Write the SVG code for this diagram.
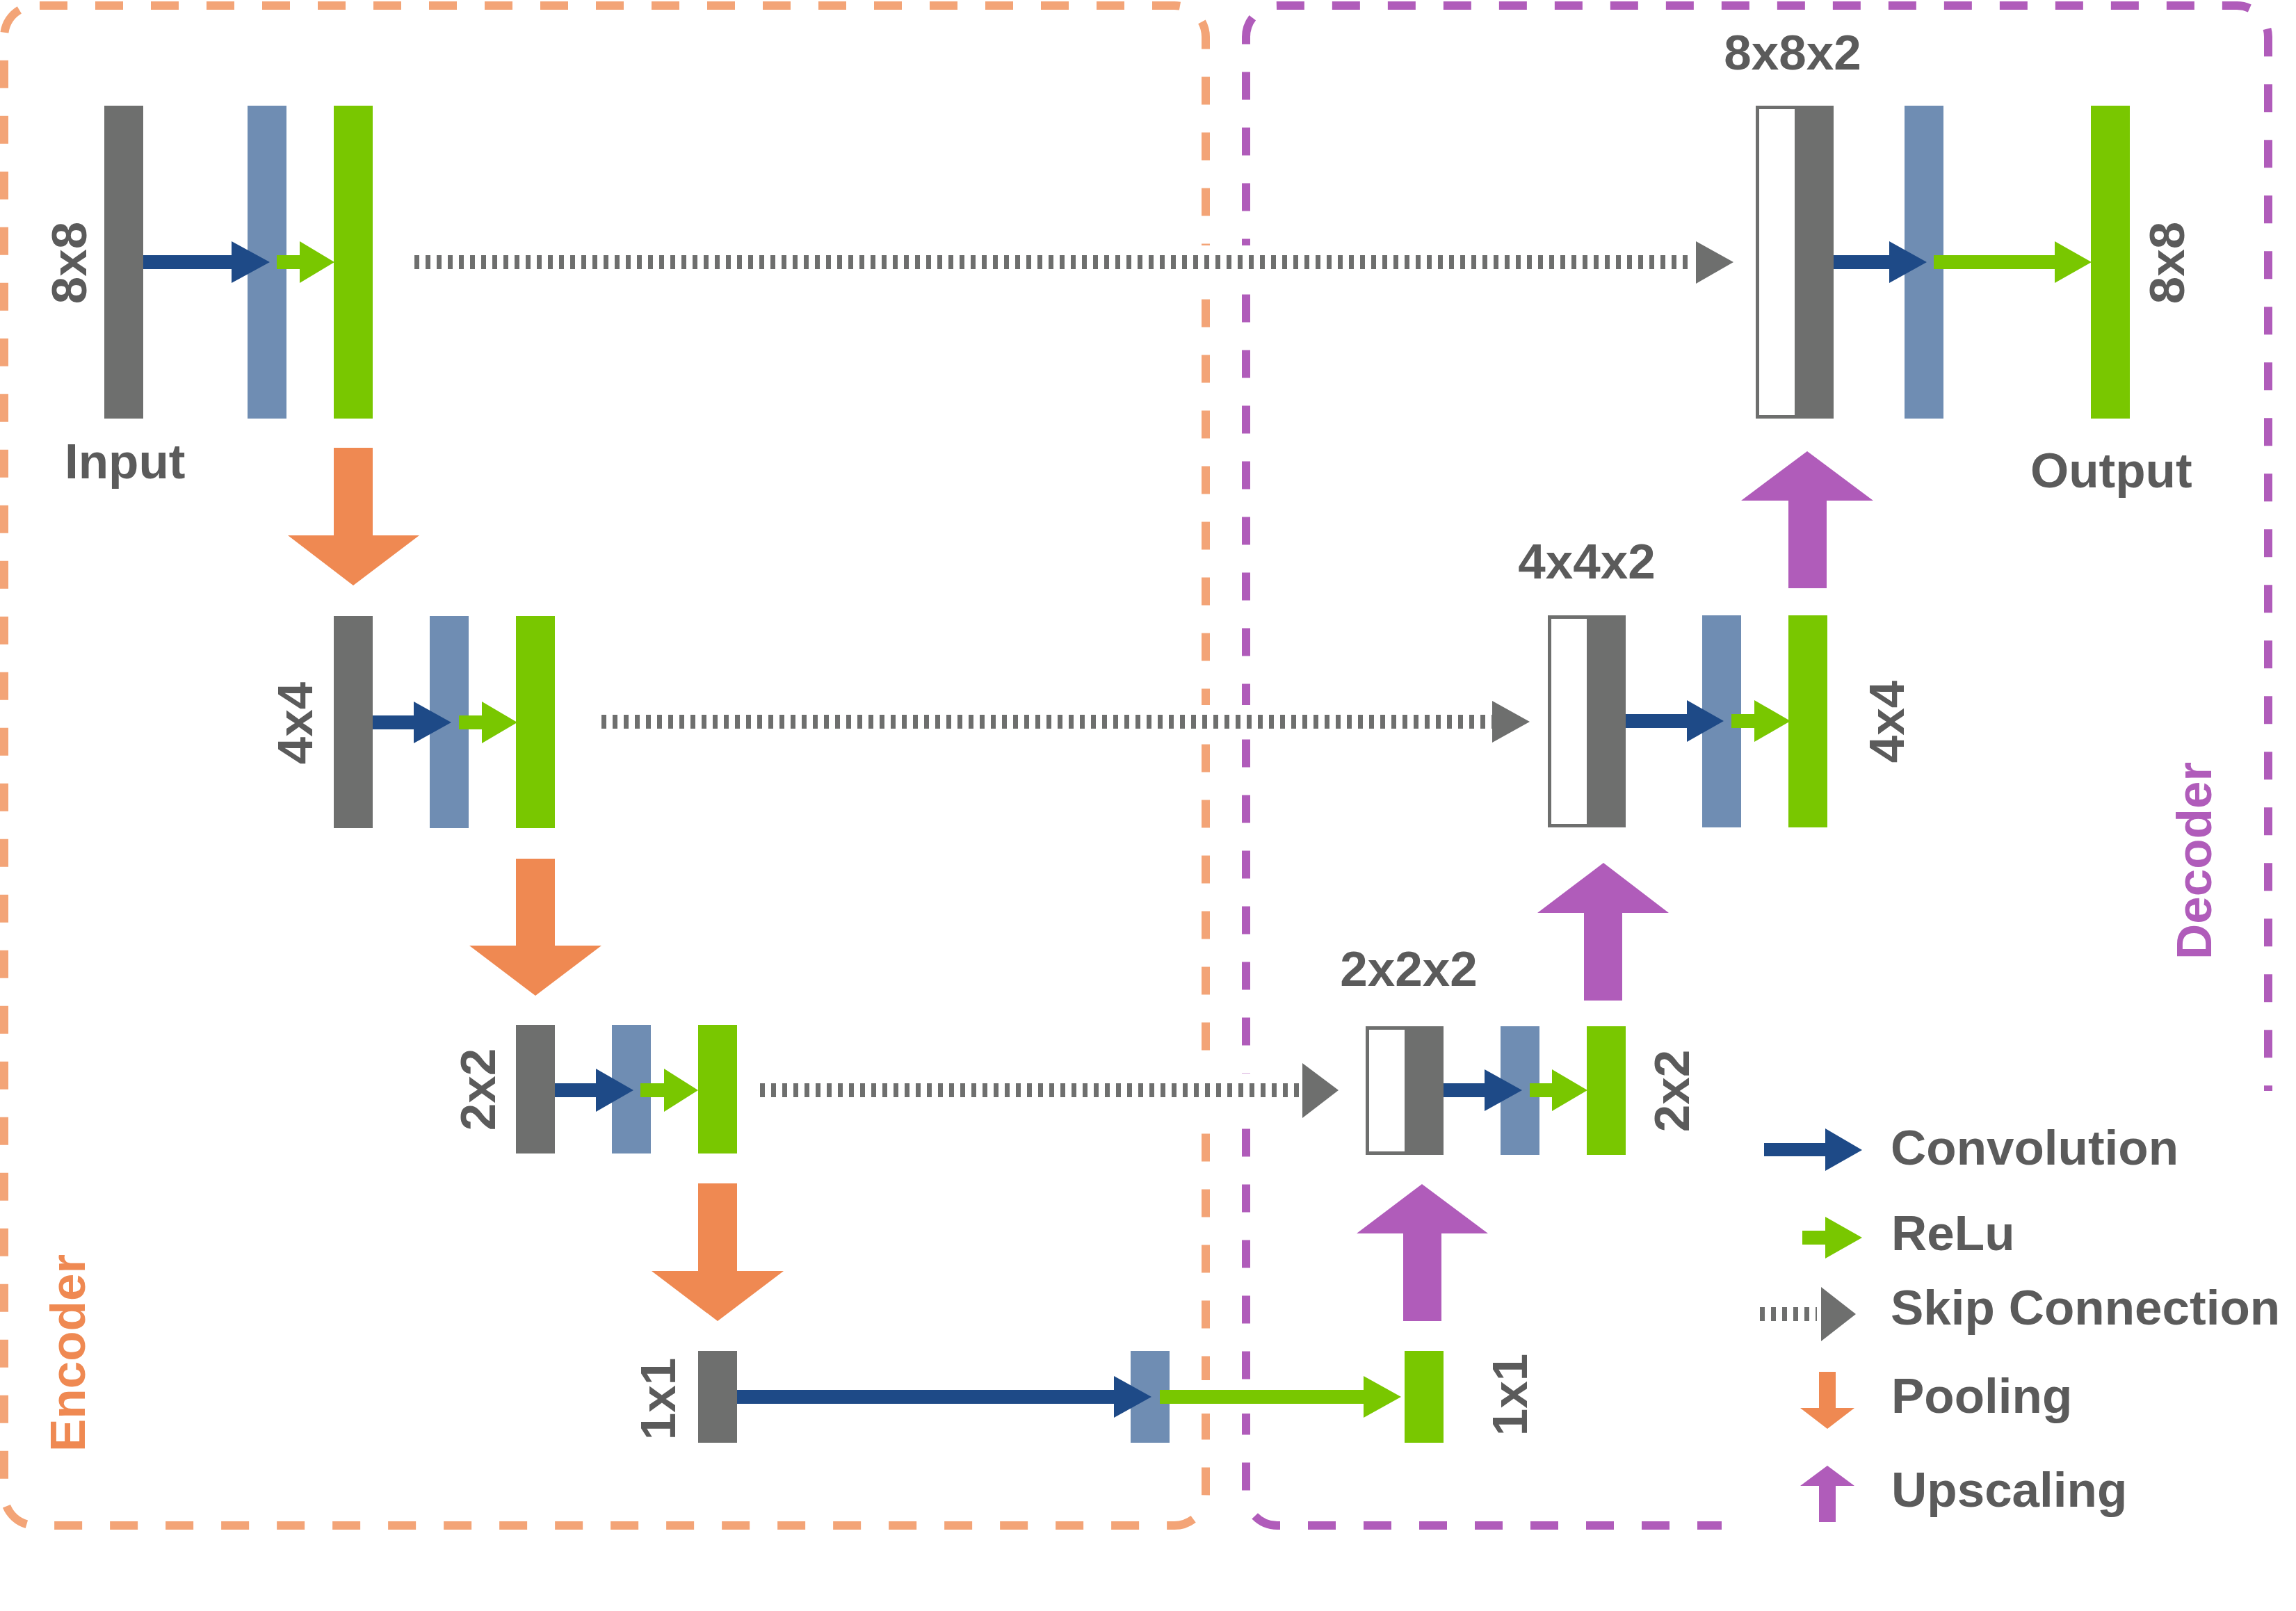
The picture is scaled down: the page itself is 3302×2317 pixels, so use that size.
<svg xmlns="http://www.w3.org/2000/svg" width="3302" height="2317" viewBox="0 0 3302 2317">
<style>
.bg{fill:#ffffff}
.gray{fill:#6E6F6E}
.blue{fill:#6F8DB3}
.green{fill:#79C700}
.cat{fill:#ffffff;stroke:#6E6F6E;stroke-width:5}
.conv{fill:#1E4A87}
.relu{fill:#79C700}
.pool{fill:#EF8952}
.up{fill:#B05CBA}
.skiphead{fill:#6E6F6E}
.skip{stroke:#6E6F6E;stroke-width:20;stroke-dasharray:7 9;fill:none}
.halo{stroke:#ffffff;stroke-width:48;fill:none}
.enc{fill:none;stroke:#F3A477;stroke-width:12;stroke-dasharray:40 40}
.dec{fill:none;stroke:#B05CBA;stroke-width:12;stroke-dasharray:40 40}
text{font-family:"Liberation Sans",Arial,Helvetica,sans-serif;font-weight:bold;font-size:71px;fill:#5B5B5B}
.mid{text-anchor:middle}
.encT{fill:#EF8952}
.decT{fill:#B05CBA}
</style>
<rect class="bg" x="0" y="0" width="3302" height="2317"/>

<g id="encoder-box">
<rect class="enc" x="6" y="8" width="1728" height="2186" rx="45" ry="45" stroke-dashoffset="74"/>
<text class="mid encT" x="96" y="1972" transform="rotate(-90 96 1946)">Encoder</text>
</g>
<g id="decoder-box">
<path class="dec" stroke-dashoffset="5" d="M2476,2194 H1837 A45,45 0 0 1 1792,2149 V53 A45,45 0 0 1 1837,8 H3217 A45,45 0 0 1 3262,53 V1569"/>
<text class="mid decT" x="3154" y="1264" transform="rotate(-90 3154 1238)">Decoder</text>
</g>

<g id="crossing-gaps">
<line class="halo" x1="596" y1="377" x2="2436" y2="377"/>
<line class="halo" x1="865" y1="1038" x2="2146" y2="1038"/>
<line class="halo" x1="1093" y1="1568" x2="1871" y2="1568"/>
<line class="halo" x1="1700" y1="2009" x2="1961" y2="2009" stroke-width="60"/>
</g>

<g id="enc-row1">
<rect class="gray" x="150" y="152" width="56" height="450"/>
<rect class="blue" x="356" y="152" width="56" height="450"/>
<rect class="green" x="480" y="152" width="56" height="450"/>
<text class="mid" x="98" y="404" transform="rotate(-90 98 378)">8x8</text>
<text x="93" y="688">Input</text>
</g>
<g id="enc-row2">
<rect class="gray" x="480" y="886" width="56" height="305"/>
<rect class="blue" x="618" y="886" width="56" height="305"/>
<rect class="green" x="742" y="886" width="56" height="305"/>
<text class="mid" x="423" y="1066" transform="rotate(-90 423 1040)">4x4</text>
</g>
<g id="enc-row3">
<rect class="gray" x="742" y="1474" width="56" height="185"/>
<rect class="blue" x="880" y="1474" width="56" height="185"/>
<rect class="green" x="1004" y="1474" width="56" height="185"/>
<text class="mid" x="686" y="1593" transform="rotate(-90 686 1567)">2x2</text>
</g>
<g id="bottleneck">
<rect class="gray" x="1004" y="1943" width="56" height="132"/>
<rect class="blue" x="1626" y="1943" width="56" height="132"/>
<rect class="green" x="2020" y="1943" width="56" height="132"/>
<text class="mid" x="945" y="2038" transform="rotate(-90 945 2012)">1x1</text>
<text class="mid" x="2170" y="2032" transform="rotate(-90 2170 2006)">1x1</text>
</g>
<g id="dec-row3">
<rect class="cat" x="1966.5" y="1478.5" width="56" height="180"/>
<rect class="gray" x="2020" y="1476" width="56" height="185"/>
<rect class="blue" x="2158" y="1476" width="56" height="185"/>
<rect class="green" x="2282" y="1476" width="56" height="185"/>
<text class="mid" x="2026" y="1418">2x2x2</text>
<text class="mid" x="2403" y="1595" transform="rotate(-90 2403 1569)">2x2</text>
</g>
<g id="dec-row2">
<rect class="cat" x="2228.5" y="887.5" width="56" height="300"/>
<rect class="gray" x="2282" y="885" width="56" height="305"/>
<rect class="blue" x="2448" y="885" width="56" height="305"/>
<rect class="green" x="2572" y="885" width="56" height="305"/>
<text class="mid" x="2282" y="832">4x4x2</text>
<text class="mid" x="2712" y="1064" transform="rotate(-90 2712 1038)">4x4</text>
</g>
<g id="dec-row1">
<rect class="cat" x="2527.5" y="154.5" width="56" height="445"/>
<rect class="gray" x="2581" y="152" width="56" height="450"/>
<rect class="blue" x="2739" y="152" width="56" height="450"/>
<rect class="green" x="3007" y="152" width="56" height="450"/>
<text class="mid" x="2578" y="100">8x8x2</text>
<text class="mid" x="3115" y="404" transform="rotate(-90 3115 378)">8x8</text>
<text x="2920" y="701">Output</text>
</g>

<g id="connectors">
<!-- skip connections -->
<line class="skip" x1="596" y1="377" x2="2436" y2="377"/>
<polygon class="skiphead" points="2439,347 2493,377 2439,408"/>
<line class="skip" x1="865" y1="1038" x2="2146" y2="1038"/>
<polygon class="skiphead" points="2146,1008 2200,1038 2146,1068"/>
<line class="skip" x1="1093" y1="1568" x2="1871" y2="1568"/>
<polygon class="skiphead" points="1873,1529 1925,1568 1873,1608"/>
<!-- encoder row arrows -->
<polygon class="conv" points="206,367 333,367 333,347 388,377 333,407 333,387 206,387"/>
<polygon class="relu" points="398,367 431,367 431,347 481,377 431,407 431,387 398,387"/>
<polygon class="conv" points="536,1029 595,1029 595,1009 649,1039 595,1069 595,1049 536,1049"/>
<polygon class="relu" points="660,1029 693,1029 693,1009 744,1039 693,1069 693,1049 660,1049"/>
<polygon class="conv" points="798,1558 857,1558 857,1537 911,1568 857,1599 857,1578 798,1578"/>
<polygon class="relu" points="921,1558 955,1558 955,1537 1004,1568 955,1599 955,1578 921,1578"/>
<polygon class="conv" points="1060,1999 1602,1999 1602,1979 1656,2009 1602,2039 1602,2019 1060,2019"/>
<polygon class="relu" points="1668,1999 1961,1999 1961,1979 2015,2009 1961,2039 1961,2019 1668,2019"/>
<!-- decoder row arrows -->
<polygon class="conv" points="2076,1558 2135,1558 2135,1538 2189,1568 2135,1598 2135,1578 2076,1578"/>
<polygon class="relu" points="2200,1558 2232,1558 2232,1538 2283,1568 2232,1598 2232,1578 2200,1578"/>
<polygon class="conv" points="2338,1027 2426,1027 2426,1007 2479,1037 2426,1067 2426,1047 2338,1047"/>
<polygon class="relu" points="2490,1027 2523,1027 2523,1007 2575,1037 2523,1067 2523,1047 2490,1047"/>
<polygon class="conv" points="2637,367 2717,367 2717,347 2771,377 2717,407 2717,387 2637,387"/>
<polygon class="relu" points="2781,367 2955,367 2955,347 3008,377 2955,407 2955,387 2781,387"/>
<!-- pooling -->
<polygon class="pool" points="480,644 536,644 536,770 603,770 508,842 414,770 480,770"/>
<polygon class="pool" points="742,1235 798,1235 798,1360 865,1360 770,1432 675,1360 742,1360"/>
<polygon class="pool" points="1004,1702 1060,1702 1060,1828 1127,1828 1032,1900 937,1828 1004,1828"/>
<!-- upscaling -->
<polygon class="up" points="2018,1900 2073,1900 2073,1774 2140,1774 2045,1703 1951,1774 2018,1774"/>
<polygon class="up" points="2278,1439 2333,1439 2333,1313 2400,1313 2306,1241 2211,1313 2278,1313"/>
<polygon class="up" points="2572,846 2627,846 2627,720 2694,720 2599,649 2504,720 2572,720"/>
</g>

<g id="legend">
<polygon class="conv" points="2537,1644 2625,1644 2625,1623 2678,1654 2625,1684 2625,1663 2537,1663"/>
<text x="2719" y="1675">Convolution</text>
<polygon class="relu" points="2592,1770 2625,1770 2625,1750 2678,1780 2625,1810 2625,1790 2592,1790"/>
<text x="2720" y="1798">ReLu</text>
<line class="skip" x1="2531" y1="1890" x2="2613" y2="1890"/>
<polygon class="skiphead" points="2619,1851 2669,1890 2619,1929"/>
<text x="2719" y="1905">Skip Connection</text>
<polygon class="pool" points="2616,1973 2640,1973 2640,2025 2667,2025 2628,2055 2589,2025 2616,2025"/>
<text x="2720" y="2032">Pooling</text>
<polygon class="up" points="2616,2189 2640,2189 2640,2137 2667,2137 2628,2108 2589,2137 2616,2137"/>
<text x="2720" y="2167">Upscaling</text>
</g>
</svg>
